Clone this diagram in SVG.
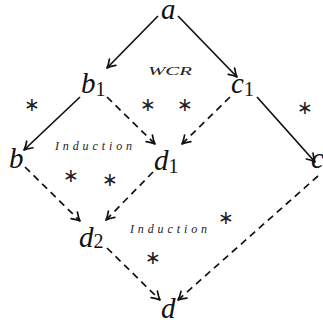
<svg xmlns="http://www.w3.org/2000/svg" width="323" height="325" viewBox="0 0 323 325">
<style>
.v{font-family:"Liberation Serif",serif;font-style:italic;font-size:29px;fill:#111}
.s{font-style:normal;font-size:20px}
.lab{font-family:"Liberation Serif",serif;font-style:italic;font-size:12px;fill:#222}
.st{font-family:"DejaVu Sans",sans-serif;font-size:19px;fill:#222;text-anchor:middle}
.e{fill:none;stroke:#111;stroke-width:1.7;marker-end:url(#ah)}
.d{stroke-dasharray:7 5}
</style>
<defs>
<marker id="ah" markerUnits="userSpaceOnUse" viewBox="-10 -6 12 12" refX="0" refY="0" markerWidth="12" markerHeight="12" orient="auto">
<path d="M-8,-4.5 Q-3.5,-1.2 0,0 Q-3.5,1.2 -8,4.5" fill="none" stroke="#111" stroke-width="1.7" stroke-linecap="round" stroke-linejoin="round"/>
</marker>
</defs>
<g id="connectors">
<path class="e" d="M158,16 L107,68"/>
<path class="e" d="M178,16 L237,77"/>
<path class="e" d="M80,97 L24,150"/>
<path class="e d" d="M107,97 L155,144"/>
<path class="e d" d="M230,97 L182,144"/>
<path class="e" d="M257,97 L315,162"/>
<path class="e d" d="M25,167 L80,221"/>
<path class="e d" d="M153,172 L106,220"/>
<path class="e d" d="M107,248 L160,300"/>
<path class="e d" d="M318,176 L178,300"/>
</g>
<g id="n-a"><text class="v" x="161" y="19">a</text></g>
<g id="n-b1"><text class="v" x="81" y="93">b<tspan class="s" dy="3">1</tspan></text></g>
<g id="n-c1"><text class="v" x="231" y="93">c<tspan class="s" dy="3">1</tspan></text></g>
<g id="n-b"><text class="v" x="9" y="168">b</text></g>
<g id="n-d1"><text class="v" x="154" y="170">d<tspan class="s" dy="3">1</tspan></text></g>
<g id="n-c"><text class="v" x="311" y="168">c</text></g>
<g id="n-d2"><text class="v" x="79" y="247">d<tspan class="s" dy="1">2</tspan></text></g>
<g id="n-d"><text class="v" x="161" y="318">d</text></g>
<g id="labels">
<text class="lab" x="148" y="75" textLength="44" lengthAdjust="spacingAndGlyphs">WCR</text>
<text class="lab" x="55" y="150" textLength="77" lengthAdjust="spacing">Induction</text>
<text class="lab" x="130" y="233" textLength="77" lengthAdjust="spacing">Induction</text>
</g>
<g id="stars">
<text class="st" x="32" y="111">∗</text>
<text class="st" x="148" y="111">∗</text>
<text class="st" x="185" y="111">∗</text>
<text class="st" x="305" y="114">∗</text>
<text class="st" x="71" y="182">∗</text>
<text class="st" x="110" y="186">∗</text>
<text class="st" x="226" y="224">∗</text>
<text class="st" x="153" y="264">∗</text>
</g>
</svg>
